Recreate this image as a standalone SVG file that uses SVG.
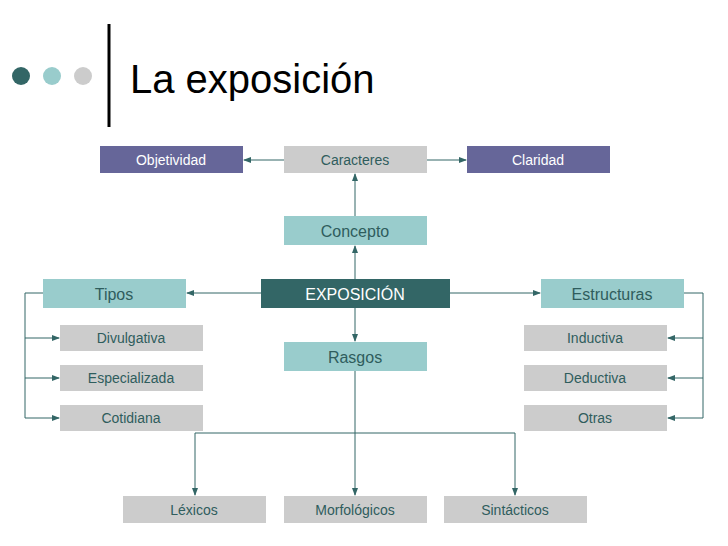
<svg xmlns="http://www.w3.org/2000/svg" width="728" height="546" viewBox="0 0 728 546">
<style>
text{font-family:"Liberation Sans",Arial,sans-serif;text-anchor:middle}
.g{fill:#cccccc}.p{fill:#666699}.l{fill:#99cccc}.d{fill:#336666}
.tg{fill:#2f5d5d;font-size:14px}.tw{fill:#fff;font-size:14px}.tb{fill:#2f5d5d;font-size:16px}
.c{stroke:#336666;stroke-width:1;fill:none;marker-end:url(#a)}
.n{stroke:#336666;stroke-width:1;fill:none}
</style>
<defs><marker id="a" markerWidth="8" markerHeight="6" refX="7" refY="3" orient="auto" markerUnits="userSpaceOnUse"><path d="M0,0L8,3L0,6z" fill="#336666"/></marker></defs>
<rect width="728" height="546" fill="#fff"/>
<g id="title">
<circle cx="21" cy="76" r="9" fill="#336666"/><circle cx="52" cy="76" r="9" fill="#99cccc"/><circle cx="83" cy="76" r="9" fill="#cccccc"/>
<line x1="109" y1="24" x2="109" y2="127" stroke="#000" stroke-width="3"/>
<text x="130" y="93" style="text-anchor:start;font-size:40px" fill="#000">La exposición</text>
</g>
<g id="connectors">
<path class="c" d="M284 160H244"/><path class="c" d="M427 160H466"/>
<path class="c" d="M355 216V174"/><path class="c" d="M355 279V246"/>
<path class="c" d="M261 293H187"/><path class="c" d="M450 293H540"/>
<path class="c" d="M355 308V341"/>
<path class="n" d="M43 293H25V418"/><path class="c" d="M25 338H59"/><path class="c" d="M25 378H59"/><path class="c" d="M25 418H59"/>
<path class="n" d="M684 293H703V418"/><path class="c" d="M703 338H668"/><path class="c" d="M703 378H668"/><path class="c" d="M703 418H668"/>
<path class="c" d="M355 371V495"/><path class="n" d="M195 433H515"/><path class="c" d="M195 433V495"/><path class="c" d="M515 433V495"/>
</g>
<g id="objetividad"><rect class="p" x="100" y="146" width="143" height="27"/><text class="tw" x="171" y="165">Objetividad</text></g>
<g id="caracteres"><rect class="g" x="284" y="146" width="143" height="27"/><text class="tg" x="355" y="165">Caracteres</text></g>
<g id="claridad"><rect class="p" x="467" y="146" width="143" height="27"/><text class="tw" x="538" y="165">Claridad</text></g>
<g id="concepto"><rect class="l" x="284" y="216" width="143" height="29"/><text class="tb" x="355" y="237">Concepto</text></g>
<g id="exposicion"><rect class="d" x="261" y="279" width="189" height="29"/><text class="tw" x="355" y="300" style="font-size:16px">EXPOSICIÓN</text></g>
<g id="tipos"><rect class="l" x="43" y="279" width="143" height="29"/><text class="tb" x="114" y="300">Tipos</text></g>
<g id="estructuras"><rect class="l" x="541" y="279" width="143" height="29"/><text class="tb" x="612" y="300">Estructuras</text></g>
<g id="rasgos"><rect class="l" x="284" y="342" width="143" height="29"/><text class="tb" x="355" y="363">Rasgos</text></g>
<g id="divulgativa"><rect class="g" x="60" y="325" width="143" height="26"/><text class="tg" x="131" y="343">Divulgativa</text></g>
<g id="especializada"><rect class="g" x="60" y="365" width="143" height="26"/><text class="tg" x="131" y="383">Especializada</text></g>
<g id="cotidiana"><rect class="g" x="60" y="405" width="143" height="26"/><text class="tg" x="131" y="423">Cotidiana</text></g>
<g id="inductiva"><rect class="g" x="524" y="325" width="143" height="26"/><text class="tg" x="595" y="343">Inductiva</text></g>
<g id="deductiva"><rect class="g" x="524" y="365" width="143" height="26"/><text class="tg" x="595" y="383">Deductiva</text></g>
<g id="otras"><rect class="g" x="524" y="405" width="143" height="26"/><text class="tg" x="595" y="423">Otras</text></g>
<g id="lexicos"><rect class="g" x="123" y="496" width="143" height="27"/><text class="tg" x="194" y="515">Léxicos</text></g>
<g id="morfologicos"><rect class="g" x="284" y="496" width="143" height="27"/><text class="tg" x="355" y="515">Morfológicos</text></g>
<g id="sintacticos"><rect class="g" x="444" y="496" width="143" height="27"/><text class="tg" x="515" y="515">Sintácticos</text></g>
</svg>
